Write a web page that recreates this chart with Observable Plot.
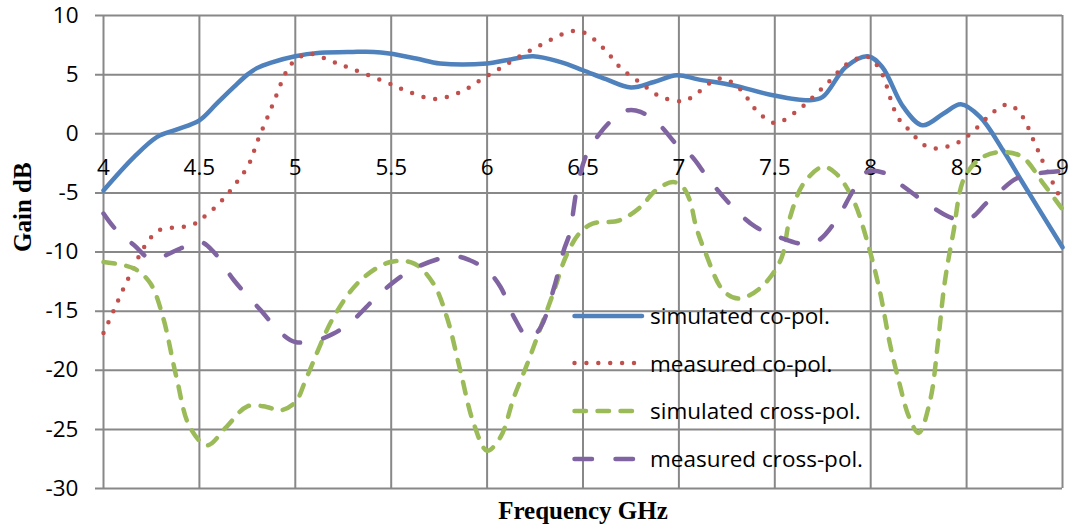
<!DOCTYPE html>
<html>
<head>
<meta charset="utf-8">
<script src="https://cdn.jsdelivr.net/npm/d3@7"></script>
<script src="https://cdn.jsdelivr.net/npm/@observablehq/plot@0.6"></script>
<style>
  body { margin: 0; background: #fff; }
  #wrap { position: relative; width: 1073px; height: 529px; }
  #legend { position: absolute; left: 568px; top: 292px; font-family: "Open Sans", sans-serif; font-size: 22.5px; color: #000; }
  .row { display: flex; align-items: center; height: 47.6px; }
  .row svg { margin-right: 2px; }
</style>
</head>
<body>
<div id="wrap"></div>
<script>
// ---- data (frequency GHz, gain dB) ----
const xTicks = [4, 4.5, 5, 5.5, 6, 6.5, 7, 7.5, 8, 8.5, 9];
const xTickLabels = ["4", "4.5", "5", "5.5", "6", "6.5", "7", "7.5", "8", "8.5", "9"];
const yTicks = [-30, -25, -20, -15, -10, -5, 0, 5, 10];
const yTickLabels = ["-30", "-25", "-20", "-15", "-10", "-5", "0", "5", "10"];
const axisCross = 0;

const seriesNames = ["simulated co-pol.", "measured co-pol.", "simulated cross-pol.", "measured cross-pol."];

const simCoPol = [
  [4, -4.8], [4.16, -1.96], [4.28, -0.27], [4.38, 0.35], [4.5, 1.14], [4.59, 2.55],
  [4.68, 3.96], [4.75, 5.0], [4.8, 5.55], [4.87, 6.0], [5, 6.56], [5.13, 6.84], [5.3, 6.92],
  [5.41, 6.92], [5.49, 6.78], [5.63, 6.36], [5.755, 5.94], [6.0, 5.94], [6.1, 6.22],
  [6.24, 6.56], [6.38, 6.08], [6.5, 5.37], [6.62, 4.61], [6.75, 3.91], [6.87, 4.38],
  [6.99, 4.95], [7.1, 4.6], [7.28, 4.1], [7.49, 3.26], [7.68, 2.83], [7.75, 3.11],
  [7.87, 5.65], [7.985, 6.56], [8.06, 5.65], [8.17, 2.27], [8.27, 0.72], [8.38, 1.71],
  [8.47, 2.49], [8.57, 1.42], [8.69, -1.4], [8.79, -4.08], [9, -9.6]
];

const measCoPol = [
  [4, -16.85], [4.05, -15.07], [4.1, -13.24], [4.155, -11.4], [4.21, -9.63], [4.29, -8.16],
  [4.41, -7.88], [4.47, -7.66], [4.52, -7.09], [4.61, -5.77], [4.69, -4.21], [4.76, -2.52],
  [4.8, -0.74], [4.85, 1.2], [4.895, 2.98], [4.94, 4.81], [4.97, 5.71], [5.02, 6.45],
  [5.07, 6.78], [5.19, 6.13], [5.3, 5.46], [5.47, 4.38], [5.58, 3.62], [5.7, 2.98],
  [5.76, 2.98], [5.88, 3.68], [5.98, 4.7], [6.08, 5.65], [6.19, 6.73], [6.3, 7.68],
  [6.41, 8.53], [6.475, 8.7], [6.53, 8.33], [6.62, 7.0], [6.7, 5.51], [6.8, 4.3],
  [6.9, 3.17], [7.02, 2.75], [7.07, 3.11], [7.17, 4.38], [7.23, 4.67], [7.325, 3.68],
  [7.4, 2.05], [7.5, 0.91], [7.61, 1.85], [7.7, 3.11], [7.79, 4.53], [7.88, 5.94],
  [7.985, 6.5], [8.06, 5.03], [8.1, 3.11], [8.14, 1.42], [8.19, 0.49], [8.28, -0.97],
  [8.34, -1.25], [8.455, -0.74], [8.55, 0.44], [8.64, 1.85], [8.715, 2.47], [8.78, 1.71],
  [8.86, -0.97], [8.91, -2.8], [9, -5.8]
];

const simCrossPol = [
  [4, -10.85], [4.16, -11.4], [4.245, -12.67], [4.31, -15.5], [4.38, -20.57], [4.45, -24.8],
  [4.54, -26.35], [4.64, -24.8], [4.75, -23.05], [4.85, -23.1], [4.92, -23.4], [5.0, -22.7],
  [5.06, -20.57], [5.2, -15.5], [5.34, -12.4], [5.495, -10.85], [5.62, -10.98], [5.72, -12.67],
  [5.79, -15.5], [5.86, -20.0], [5.93, -24.5], [6.0, -26.8], [6.07, -25.65], [6.14, -22.27],
  [6.21, -19.44], [6.28, -16.35], [6.35, -13.24], [6.41, -10.42], [6.48, -8.44], [6.55, -7.6],
  [6.69, -7.32], [6.8, -6.19], [6.88, -4.78], [6.97, -4.08], [7.02, -4.5], [7.057, -5.63],
  [7.09, -7.88], [7.14, -10.13], [7.23, -13.24], [7.31, -13.94], [7.42, -13.1], [7.53, -10.7],
  [7.58, -7.04], [7.65, -4.21], [7.75, -2.8], [7.82, -3.37], [7.91, -5.63], [7.99, -9.58],
  [8.05, -13.5], [8.1, -17.75], [8.15, -21.13], [8.2, -23.96], [8.25, -25.3], [8.31, -22.55],
  [8.35, -17.75], [8.385, -12.67], [8.43, -8.44], [8.49, -3.65], [8.585, -1.96], [8.69, -1.54],
  [8.79, -1.96], [8.9, -4.21], [9, -6.4]
];

const measCrossPol = [
  [4, -6.75], [4.06, -8.02], [4.16, -9.43], [4.25, -10.6], [4.4, -9.71], [4.505, -9.15],
  [4.575, -10.0], [4.68, -12.39], [4.82, -14.93], [4.92, -16.77], [5.0, -17.61], [5.11, -17.47],
  [5.2, -16.9], [5.29, -15.92], [5.46, -13.24], [5.62, -11.4], [5.82, -10.36], [5.91, -10.7],
  [6.0, -11.55], [6.07, -12.96], [6.14, -15.5], [6.22, -17.33], [6.28, -16.35], [6.35, -12.96],
  [6.4, -9.85], [6.43, -8.44], [6.47, -4.5], [6.52, -1.68], [6.58, -0.13], [6.66, 1.29],
  [6.735, 1.99], [6.8, 1.85], [6.9, 0.72], [7.0, -1.12], [7.06, -1.8], [7.16, -3.93],
  [7.28, -6.19], [7.4, -7.88], [7.52, -8.73], [7.66, -9.35], [7.73, -9.0], [7.82, -7.32],
  [7.91, -4.78], [7.98, -3.23], [8.08, -3.37], [8.15, -4.21], [8.27, -5.63], [8.41, -7.04],
  [8.48, -7.32], [8.53, -7.04], [8.6, -5.91], [8.67, -4.92], [8.76, -3.79], [8.86, -3.37],
  [9, -3.15]
];

// ---- styles ----
const styles = [
  {color: "#4F81BD", width: 4.5, dash: null, cap: "round"},
  {color: "#C0504D", width: 4.5, dash: "0 11.9", cap: "round"},
  {color: "#9BBB59", width: 4.5, dash: "11.5 11.5", cap: "round"},
  {color: "#8064A2", width: 4.5, dash: "17.5 23.5", cap: "round"}
];
const allSeries = [simCoPol, measCoPol, simCrossPol, measCrossPol];
const gridColor = "#888888";

const lineMarks = allSeries.map((s, i) => Plot.line(s, {
  x: d => d[0], y: d => d[1], curve: "catmull-rom",
  stroke: styles[i].color, strokeWidth: styles[i].width,
  strokeDasharray: styles[i].dash, strokeLinecap: styles[i].cap, strokeLinejoin: "round"
}));

const chart = Plot.plot({
  width: 1073, height: 529,
  marginLeft: 103, marginRight: 11, marginTop: 15, marginBottom: 41,
  style: {fontFamily: "'Open Sans', sans-serif", background: "#fff", color: "#000", overflow: "visible"},
  x: {domain: [4, 9], axis: null},
  y: {domain: [-30, 10], axis: null},
  marks: [
    Plot.gridX(xTicks, {stroke: gridColor, strokeOpacity: 1, strokeWidth: 2}),
    Plot.gridY(yTicks, {stroke: gridColor, strokeOpacity: 1, strokeWidth: 2, insetLeft: -8}),
    Plot.axisY(yTicks, {tickSize: 0, tickPadding: 25, fontSize: 22.5, fill: "#000",
      tickFormat: d => yTickLabels[yTicks.indexOf(d)]}),
    Plot.text(xTicks, {x: d => d, y: () => axisCross, dy: 34.5, text: (d, i) => xTickLabels[i],
      fontSize: 22.5, fill: "#000", lineAnchor: "middle"}),
    ...lineMarks,
    Plot.text(["Frequency GHz"], {frameAnchor: "bottom", dy: 22, lineAnchor: "middle",
      fontFamily: "'Liberation Serif', 'Times New Roman', serif", fontWeight: "bold", fontSize: 25, fill: "#000"}),
    Plot.text(["Gain dB"], {frameAnchor: "left", dx: -81, rotate: -90, lineAnchor: "middle",
      fontFamily: "'Liberation Serif', 'Times New Roman', serif", fontWeight: "bold", fontSize: 25, fill: "#000"})
  ]
});

const wrap = document.getElementById("wrap");
wrap.appendChild(chart);

// ---- legend (HTML overlay) ----
const legend = document.createElement("div");
legend.id = "legend";
seriesNames.forEach((name, i) => {
  const st = styles[i];
  const row = document.createElement("div");
  row.className = "row";
  const dashAttr = st.dash ? `stroke-dasharray="${st.dash}"` : "";
  row.innerHTML = `<svg width="80" height="12"><line x1="6.5" y1="6" x2="74" y2="6" stroke="${st.color}" stroke-width="${st.width}" stroke-linecap="${st.cap}" ${dashAttr}/></svg><span>${name}</span>`;
  legend.appendChild(row);
});
wrap.appendChild(legend);
</script>
</body>
</html>
